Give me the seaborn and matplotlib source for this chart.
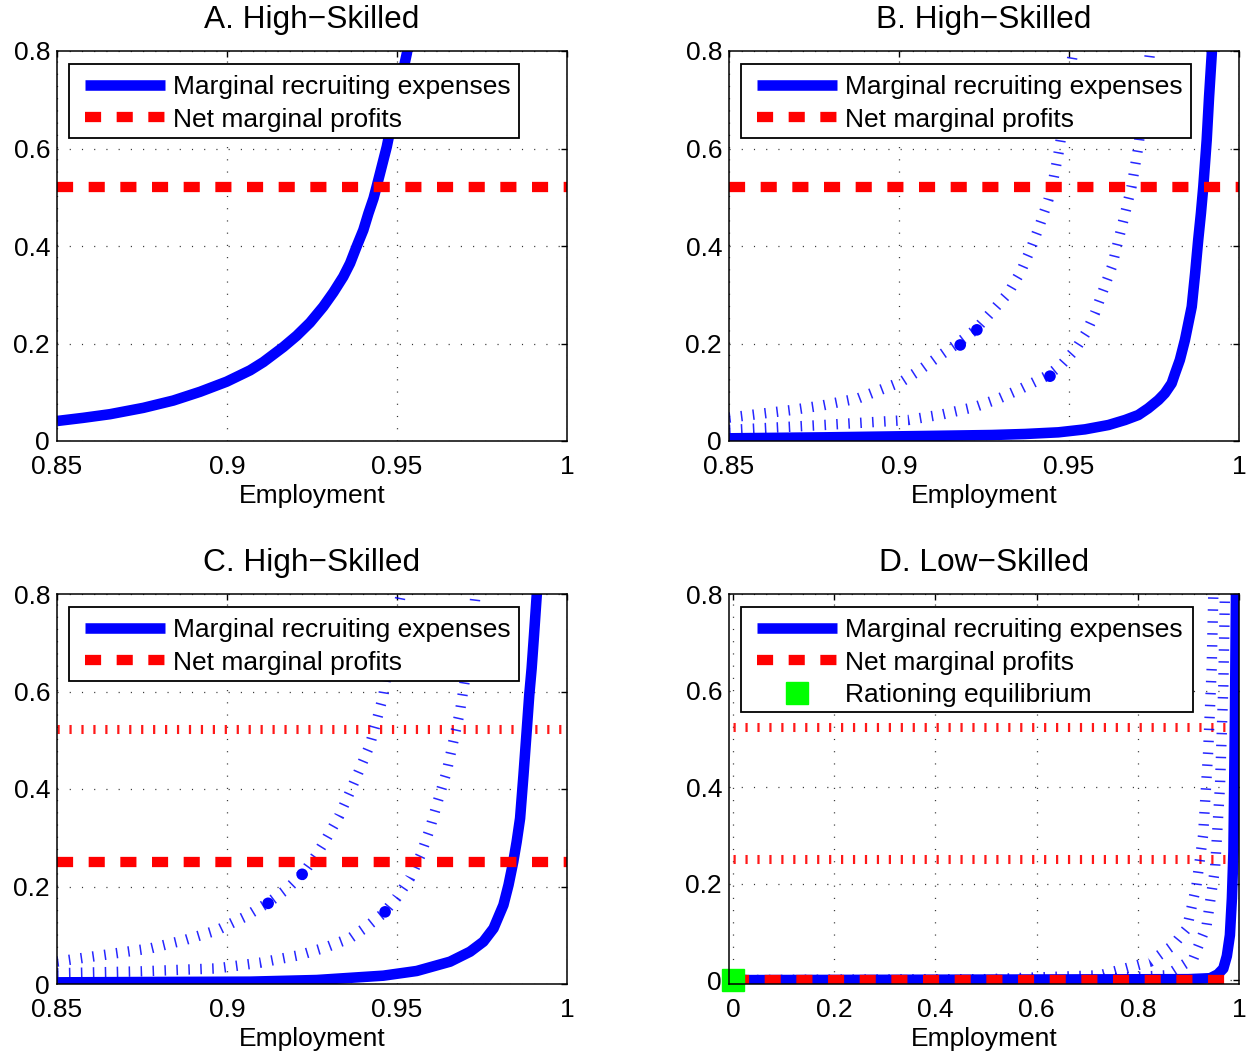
import matplotlib
matplotlib.use("Agg")
import matplotlib.pyplot as plt
from matplotlib.lines import Line2D
from matplotlib.patches import Rectangle
import seaborn as sns

sns.set_theme(style="white")
plt.rcParams["font.family"] = ["Liberation Sans", "DejaVu Sans"]
plt.rcParams["lines.scale_dashes"] = False
plt.rcParams["axes.unicode_minus"] = True

# ---------------- data ----------------
titles = ["A. High\u2212Skilled", "B. High\u2212Skilled", "C. High\u2212Skilled", "D. Low\u2212Skilled"]
xlabel = "Employment"
legend_labels = ["Marginal recruiting expenses", "Net marginal profits", "Rationing equilibrium"]

high_xticks = [0.85, 0.9, 0.95, 1.0]
high_xticklabels = ["0.85", "0.9", "0.95", "1"]
low_xticks = [0.0, 0.2, 0.4, 0.6, 0.8, 1.0]
low_xticklabels = ["0", "0.2", "0.4", "0.6", "0.8", "1"]
yticks = [0.0, 0.2, 0.4, 0.6, 0.8]
yticklabels = ["0", "0.2", "0.4", "0.6", "0.8"]

# Panel A: recruiting expenses (solid) and net profits
a_x = [0.85, 0.8577, 0.8656, 0.8754, 0.8842, 0.8921, 0.8999, 0.9068, 0.9107, 0.9166,
       0.9205, 0.9244, 0.9283, 0.9313, 0.9342, 0.9362, 0.9381, 0.9401, 0.9416, 0.9431,
       0.944, 0.9455, 0.947, 0.9484, 0.9499, 0.9514, 0.9529, 0.9535]
a_y = [0.041, 0.0475, 0.055, 0.068, 0.083, 0.101, 0.1217, 0.145, 0.162, 0.193,
       0.216, 0.2427, 0.2755, 0.305, 0.337, 0.3645, 0.3986, 0.4328, 0.467, 0.4978,
       0.5217, 0.5627, 0.6037, 0.6517, 0.6995, 0.7473, 0.7953, 0.83]
a_profit = 0.522

# Panel B: new expenses curve (solid) and earlier curves (dotted)
b_x = [0.85, 0.8782, 0.9076, 0.9273, 0.9371, 0.9469, 0.9547, 0.9616, 0.9665, 0.9704,
       0.9733, 0.9763, 0.9782, 0.9802, 0.9812, 0.9826, 0.9841, 0.9851, 0.9861, 0.9871,
       0.988, 0.9888, 0.9895, 0.99, 0.9905, 0.9912, 0.992, 0.9923]
b_y = [0.0055, 0.0075, 0.0103, 0.0123, 0.0144, 0.0178, 0.0239, 0.0328, 0.0431, 0.0533,
       0.067, 0.0841, 0.0978, 0.1183, 0.1388, 0.1662, 0.2072, 0.2414, 0.2755, 0.344,
       0.4123, 0.467, 0.5217, 0.5696, 0.6174, 0.7063, 0.7952, 0.83]
b1_x = [0.85, 0.8685, 0.8775, 0.888, 0.9008, 0.906, 0.9116, 0.917, 0.9224, 0.927,
        0.9321, 0.936, 0.939, 0.9415, 0.9439, 0.9455, 0.9469, 0.949, 0.9508, 0.952]
b1_y = [0.048, 0.0636, 0.073, 0.0875, 0.1217, 0.145, 0.173, 0.199, 0.228, 0.263,
        0.303, 0.35, 0.3986, 0.445, 0.494, 0.54, 0.59, 0.68, 0.78, 0.83]
b2_x = [0.85, 0.8782, 0.9027, 0.913, 0.9224, 0.929, 0.9351, 0.9439, 0.948, 0.9518,
        0.955, 0.9576, 0.960, 0.9626, 0.9665, 0.9684, 0.9704, 0.9738, 0.9745]
b2_y = [0.0226, 0.033, 0.043, 0.055, 0.07, 0.086, 0.1046, 0.135, 0.158, 0.187,
        0.222, 0.262, 0.308, 0.3575, 0.467, 0.522, 0.604, 0.795, 0.83]
b_profit = 0.522
b_dots_x = [0.918, 0.9229, 0.9444]
b_dots_y = [0.197, 0.228, 0.133]

# Panel C
c_x = [0.85, 0.8774, 0.9068, 0.9264, 0.946, 0.9558, 0.9656, 0.9715, 0.9754, 0.9784,
       0.9813, 0.9828, 0.9842, 0.9852, 0.9862, 0.9872, 0.9882, 0.9889, 0.9896, 0.9903,
       0.9911, 0.9913]
c_y = [0.0034, 0.0041, 0.0048, 0.0082, 0.0171, 0.0267, 0.0458, 0.0663, 0.0868, 0.1142,
       0.162, 0.2031, 0.2509, 0.2919, 0.3398, 0.4287, 0.5245, 0.5928, 0.6475, 0.7159,
       0.798, 0.83]
c1_x = [0.85, 0.8774, 0.8875, 0.897, 0.905, 0.9126, 0.918, 0.9224, 0.926, 0.9293,
        0.933, 0.9362, 0.939, 0.942, 0.944, 0.946, 0.948, 0.9509, 0.952]
c1_y = [0.046, 0.073, 0.09, 0.11, 0.137, 0.169, 0.197, 0.227, 0.262, 0.299,
        0.345, 0.3945, 0.44, 0.49, 0.54, 0.593, 0.68, 0.791, 0.83]
c2_x = [0.85, 0.875, 0.897, 0.91, 0.9215, 0.929, 0.9362, 0.941, 0.946, 0.950,
        0.9538, 0.957, 0.9597, 0.962, 0.9646, 0.9685, 0.9705, 0.973, 0.9735]
c2_y = [0.022, 0.026, 0.032, 0.044, 0.0595, 0.075, 0.094, 0.117, 0.145, 0.178,
        0.217, 0.265, 0.319, 0.375, 0.4355, 0.5585, 0.6476, 0.791, 0.83]
c_profit = 0.251
c_profit_old = 0.523
c_dots_x = [0.9121, 0.9221, 0.9465]
c_dots_y = [0.1655, 0.225, 0.148]

# Panel D
d_x = [0.0, 0.9, 0.943, 0.958, 0.969, 0.976, 0.982, 0.986, 0.989, 0.992, 0.994, 0.9945]
d_y = [0.0, 0.002, 0.004, 0.012, 0.024, 0.05, 0.093, 0.17, 0.266, 0.542, 0.798, 0.83]
d1_x = [0.0, 0.5, 0.725, 0.824, 0.87, 0.897, 0.916, 0.929, 0.939, 0.946, 0.949, 0.95]
d1_y = [0.0, 0.002, 0.01, 0.038, 0.0725, 0.107, 0.197, 0.30, 0.473, 0.646, 0.791, 0.83]
d2_x = [0.0, 0.7, 0.857, 0.91, 0.936, 0.9526, 0.9625, 0.969, 0.972, 0.973]
d2_y = [0.0, 0.001, 0.01, 0.045, 0.114, 0.231, 0.404, 0.611, 0.791, 0.83]
d_profit = 0.0
d_profit_old = [0.525, 0.252]
d_eq_x = [0.0]
d_eq_y = [0.0]

# ---------------- styles ----------------
BLUE = (0, 0, 1)
RED = (1, 0, 0)
GREEN = (0, 1, 0)
SOLID = dict(color=BLUE, linewidth=7.6, solid_capstyle="butt", solid_joinstyle="round")
DASHED = dict(color=RED, linewidth=7.4, linestyle=(0, (11.6, 11.2)), dash_capstyle="butt")
OLD_RED = dict(color=RED, linewidth=6.5, linestyle=(0, (1.6, 7.0)), dash_capstyle="butt", alpha=0.9)
OLD_BLUE = dict(color=BLUE, linewidth=7.5, linestyle=(0, (1.1, 7.5)), dash_capstyle="butt", alpha=0.85)
FS = 19

W, H = 1254, 1059
fig = plt.figure(figsize=(W / 100, H / 100), dpi=100)


def rect(l, r, t, b):
    return [l / W, (H - b) / H, (r - l) / W, (b - t) / H]


axes = [
    fig.add_axes(rect(57, 567, 51, 441)),
    fig.add_axes(rect(729, 1239, 51, 441)),
    fig.add_axes(rect(57, 567, 594, 984)),
    fig.add_axes(rect(729, 1239, 594, 984)),
]


def line(ax, x, y, **kw):
    sns.lineplot(x=x, y=y, ax=ax, sort=False, estimator=None, legend=False, **kw)


def hline(ax, xr, yv, **kw):
    line(ax, xr, [yv, yv], **kw)


high_range = [0.85, 1.0]

# A
ax = axes[0]
line(ax, a_x, a_y, **SOLID)
hline(ax, high_range, a_profit, **DASHED)

# B
ax = axes[1]
line(ax, b1_x, b1_y, **OLD_BLUE)
line(ax, b2_x, b2_y, **OLD_BLUE)
sns.scatterplot(x=b_dots_x, y=b_dots_y, ax=ax, color=BLUE, s=70, edgecolor="none", legend=False)
line(ax, b_x, b_y, **SOLID)
hline(ax, high_range, b_profit, **DASHED)

# C
ax = axes[2]
hline(ax, high_range, c_profit_old, **OLD_RED)
line(ax, c1_x, c1_y, **OLD_BLUE)
line(ax, c2_x, c2_y, **OLD_BLUE)
sns.scatterplot(x=c_dots_x, y=c_dots_y, ax=ax, color=BLUE, s=70, edgecolor="none", legend=False)
line(ax, c_x, c_y, **SOLID)
hline(ax, high_range, c_profit, **DASHED)

# D
ax = axes[3]
for yv in d_profit_old:
    hline(ax, [0.0, 1.0], yv, **OLD_RED)
line(ax, d1_x, d1_y, **OLD_BLUE)
line(ax, d2_x, d2_y, **OLD_BLUE)
line(ax, d_x, d_y, **SOLID)
hline(ax, [0.0, 1.0], d_profit, **DASHED)
ax.plot(d_eq_x, d_eq_y, linestyle="none", marker="s", markersize=16.5,
        markerfacecolor=GREEN, markeredgecolor=GREEN, zorder=6, clip_on=False)

# ---------------- axes decoration ----------------
for i, ax in enumerate(axes):
    if i < 3:
        ax.set_xlim(0.85, 1.0)
        ax.set_ylim(0, 0.8)
        ax.set_xticks(high_xticks)
        ax.set_xticklabels(high_xticklabels)
    else:
        ax.set_xlim(-0.008, 1.0)
        ax.set_ylim(-0.008, 0.8)
        ax.set_xticks(low_xticks)
        ax.set_xticklabels(low_xticklabels)
    ax.set_yticks(yticks)
    ax.set_yticklabels(yticklabels)
    ax.grid(True, color="#333333", linewidth=0.9, linestyle=(0, (0.8, 8.0)))
    ax.set_axisbelow(True)
    ax.tick_params(axis="both", which="major", direction="in", length=4, width=1,
                   top=True, right=True, labelsize=FS, colors="black")
    ax.tick_params(axis="x", pad=10)
    ax.tick_params(axis="y", pad=5)
    for s in ax.spines.values():
        s.set_visible(True)
        s.set_color("black")
        s.set_linewidth(1.1)
        s.set_zorder(7)
    ax.set_facecolor("white")
    ax.set_title(titles[i], fontsize=22.8, pad=16.5, color="black")
    ax.set_xlabel(xlabel, fontsize=FS, labelpad=4, color="black")

    # legend frame (pixel geometry within the 510x390 axes box)
    ax_top = 51 if i < 2 else 594
    top_px = ax_top + 13
    bot_px = ax_top + (86.7 if i < 3 else 118)
    ax_bottom_px = ax_top + 390
    x0 = 12 / 510
    x1 = 462 / 510 if i != 3 else 464 / 510
    y_top = (ax_bottom_px - top_px) / 390
    y_bot = (ax_bottom_px - bot_px) / 390
    ax.add_patch(Rectangle((x0, y_bot), x1 - x0, y_top - y_bot, transform=ax.transAxes,
                           facecolor="white", edgecolor="black", linewidth=1.3,
                           zorder=8, clip_on=False))

    handles = [
        Line2D([], [], **SOLID),
        Line2D([], [], **DASHED),
    ]
    labels = legend_labels[:2]
    if i == 3:
        handles.append(Line2D([], [], linestyle="none", marker="s", markersize=16.5,
                              markerfacecolor=GREEN, markeredgecolor=GREEN))
        labels = legend_labels
    leg = ax.legend(handles, labels, loc="upper left",
                    bbox_to_anchor=(28 / 510, (390 - 24) / 390),
                    frameon=False, fontsize=FS, borderpad=0, borderaxespad=0,
                    handlelength=3.03, handletextpad=0.3, labelspacing=0.33)
    leg.set_zorder(9)
    for t in leg.get_texts():
        t.set_color("black")

fig.savefig("out.png", dpi=100, facecolor="white")
